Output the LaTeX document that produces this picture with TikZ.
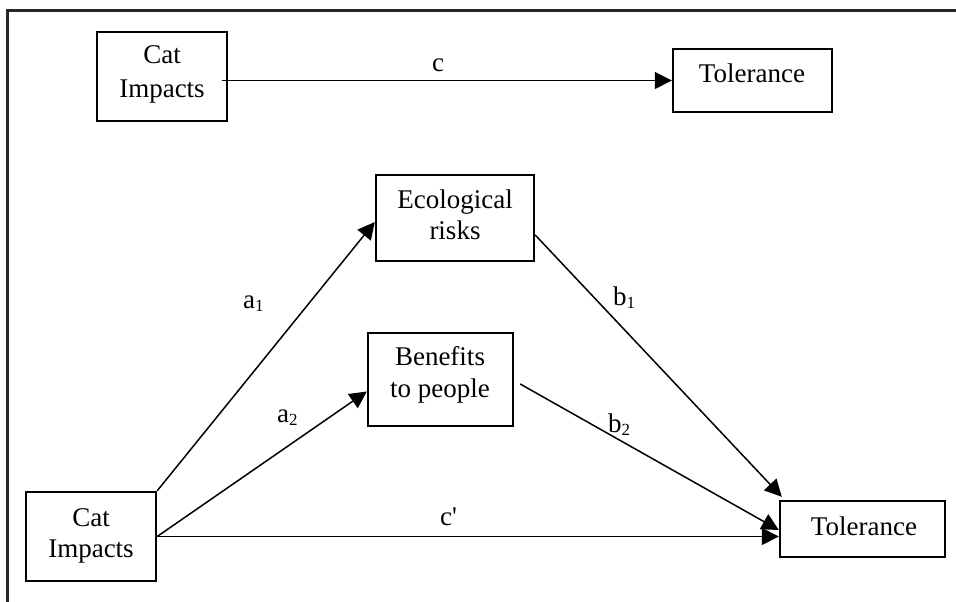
\documentclass[tikz,border=0pt]{standalone}
\usepackage{fontspec}
\newfontfamily\tnr{Liberation Serif}
\usetikzlibrary{arrows.meta}
\newcommand\lsub[1]{\raisebox{-3pt}{\fontsize{17}{17}\selectfont #1}}
\begin{document}
\begin{tikzpicture}[x=1pt,y=-1pt,
  box/.style={draw, line width=2.4pt, rectangle, inner sep=0pt},
  txt/.style={font=\tnr\fontsize{27}{31}\selectfont, anchor=base, inner sep=0pt},
  lab/.style={font=\tnr\fontsize{27}{31}\selectfont, anchor=base west, inner sep=0pt},
  arr/.style={line width=1.5pt, -{Triangle[length=17pt,width=17pt]}}]
\useasboundingbox (0,0) rectangle (956,602);
\draw[line width=3pt, gray!30!black] (7,602) -- (7,11) -- (956,11);

% boxes
\node[box, minimum width=130pt, minimum height=89pt] (ci1) at (162,76.5) {};
\node[box, minimum width=159pt, minimum height=63pt] (tol1) at (752.5,80.5) {};
\node[box, minimum width=158pt, minimum height=86pt] (eco) at (455,218) {};
\node[box, minimum width=145pt, minimum height=93pt] (ben) at (440.5,379.5) {};
\node[box, minimum width=130pt, minimum height=89pt] (ci2) at (91,536.5) {};
\node[box, minimum width=165pt, minimum height=56pt] (tol2) at (862.5,529) {};

% box texts
\node[txt] (ci1a) at (162,64) {Cat};
\node[txt] (ci1b) at (162,97) {Impacts};
\node[txt] (tol1a) at (752,83) {Tolerance};
\node[txt] (ecoa) at (455,208) {Ecological};
\node[txt] (ecob) at (455,239) {risks};
\node[txt] (bena) at (440,365) {Benefits};
\node[txt] (benb) at (440,397) {to people};
\node[txt] (ci2a) at (91,526) {Cat};
\node[txt] (ci2b) at (91,557) {Impacts};
\node[txt] (tol2a) at (864,535) {Tolerance};

% connectors
\draw[arr] ([xshift=-6pt]ci1.east |- tol1.west) -- (tol1.west);
\draw[arr] (ci2.north east) -- ([yshift=-4pt]eco.west);
\draw[arr] (ci2.east) -- ([yshift=-12pt]ben.west);
\draw[arr] (ci2.east) -- (tol2.west |- ci2.east);
\draw[arr] ([yshift=-17pt]eco.east) -- ([xshift=3pt,yshift=3pt]tol2.north west);
\draw[arr] ([xshift=6pt,yshift=-4.5pt]ben.east) -- ([yshift=-1pt]tol2.west);

% labels
\node[lab] (lc) at (432,71) {c};
\node[lab] (la1) at (243,308) {a\lsub{1}};
\node[lab] (la2) at (277,422) {a\lsub{2}};
\node[lab] (lb1) at (613,305) {b\lsub{1}};
\node[lab] (lb2) at (608,432) {b\lsub{2}};
\node[lab] (lcp) at (440,525) {c'};
\end{tikzpicture}
\end{document}
